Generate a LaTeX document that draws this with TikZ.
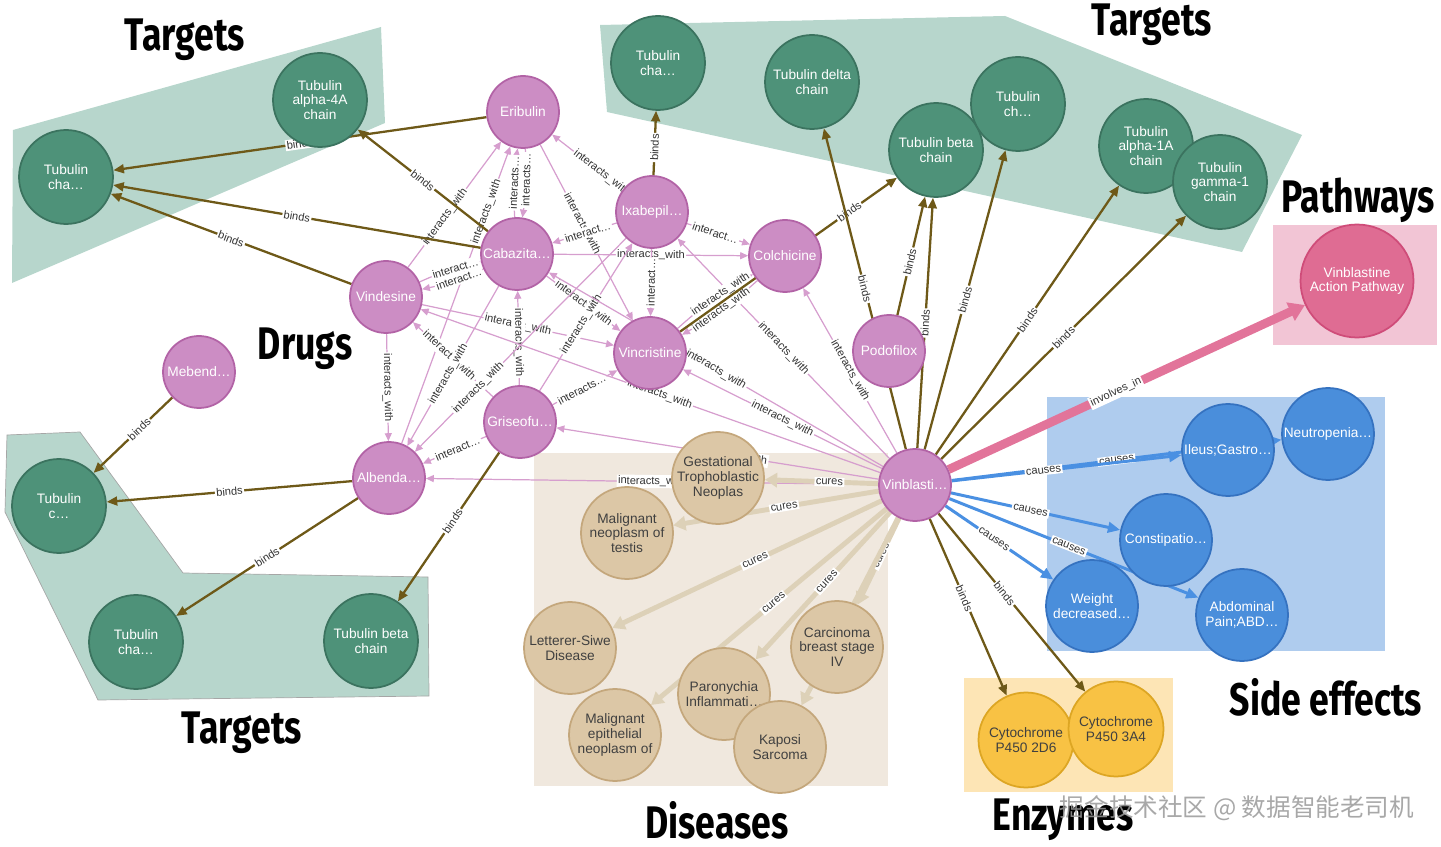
\documentclass[tikz,border=0pt]{standalone}
\usepackage{fontspec}
\setmainfont{Liberation Sans}
\newfontfamily\titlefont[FakeStretch=0.78]{Fira Sans}
\newfontfamily\cjkfont{Noto Sans CJK SC}
\usetikzlibrary{arrows.meta}

\definecolor{tgtfill}{HTML}{4E9279}
\definecolor{tgtline}{HTML}{3B735F}
\definecolor{tgtbox}{HTML}{B7D6CC}
\definecolor{drugfill}{HTML}{CC8DC4}
\definecolor{drugline}{HTML}{B263A6}
\definecolor{pathfill}{HTML}{DF6C93}
\definecolor{pathline}{HTML}{CF4C79}
\definecolor{pathbox}{HTML}{F2C5D5}
\definecolor{efffill}{HTML}{4A8EDB}
\definecolor{effline}{HTML}{3572C0}
\definecolor{effbox}{HTML}{AFCCEE}
\definecolor{enzfill}{HTML}{F8C244}
\definecolor{enzline}{HTML}{DDA623}
\definecolor{enzbox}{HTML}{FDE5B5}
\definecolor{disfill}{HTML}{DCC7A6}
\definecolor{disline}{HTML}{C4A77C}
\definecolor{disbox}{HTML}{F0E8DE}
\definecolor{bindcol}{HTML}{6E5918}
\definecolor{intercol}{HTML}{D69ECE}
\definecolor{curecol}{HTML}{DDD1B8}
\definecolor{causecol}{HTML}{4A90E2}
\definecolor{invcol}{HTML}{E2749A}

\newcommand\nodefont{\fontsize{7.8}{8.4}\selectfont}
\newcommand\edgefont{\fontsize{6.3}{6.5}\selectfont}

\pgfdeclarelayer{bg}
\pgfdeclarelayer{edges}
\pgfsetlayers{bg,edges,main}

\begin{document}
\begin{tikzpicture}[x=0.02cm, y=-0.02cm]
\tikzset{target/.style={circle, draw=tgtline, fill=tgtfill, line width=1pt, minimum size=1.88cm, inner sep=0pt, align=center, text=white, font=\nodefont}}
\tikzset{drug/.style={circle, draw=drugline, fill=drugfill, line width=1pt, minimum size=1.44cm, inner sep=0pt, align=center, text=white, font=\nodefont}}
\tikzset{pathway/.style={circle, draw=pathline, fill=pathfill, line width=1pt, minimum size=2.26cm, inner sep=0pt, align=center, text=white, font=\nodefont}}
\tikzset{effect/.style={circle, draw=effline, fill=efffill, line width=1pt, minimum size=1.84cm, inner sep=0pt, align=center, text=white, font=\nodefont}}
\tikzset{enzyme/.style={circle, draw=enzline, fill=enzfill, line width=1pt, minimum size=1.9cm, inner sep=0pt, align=center, text=black!75, font=\nodefont}}
\tikzset{disease/.style={circle, draw=disline, fill=disfill, line width=1pt, minimum size=1.84cm, inner sep=0pt, align=center, text=black!75, font=\nodefont}}
\tikzset{binds/.style={draw=bindcol, line width=1.3pt, -{Triangle[length=6pt,width=5pt]}}}
\tikzset{inter/.style={draw=intercol, line width=0.7pt, -{Triangle[length=4.5pt,width=4pt]}}}
\tikzset{causes/.style={draw=causecol, line width=1.7pt, -{Triangle[length=7pt,width=6pt]}}}
\tikzset{cures/.style={draw=curecol, line width=2.8pt, -{Triangle[length=7pt,width=8pt]}}}
\tikzset{involves/.style={draw=invcol, line width=5pt, -{Triangle[length=9pt,width=11pt]}}}
\tikzset{lbl/.style={sloped, fill=white, inner sep=0.8pt, font=\edgefont, text=black!80}}
\tikzset{grouptitle/.style={inner sep=0pt, font=\titlefont\bfseries\fontsize{26}{28}\selectfont}}
\useasboundingbox (0,0) rectangle (1441,847);

% group boxes
\begin{pgfonlayer}{bg}
\fill[tgtbox] (13,130) -- (381,27) -- (385,123) -- (12,283) -- cycle;
\fill[tgtbox] (600,25) -- (1005,16) -- (1302,135) -- (1242,252) -- (607,112) -- cycle;
\filldraw[fill=tgtbox, draw=gray!70] (7,435) -- (80,432) -- (183,573) -- (428,577) -- (429,696) -- (98,700) -- (5,512) -- cycle;
\fill[pathbox] (1273,225) rectangle (1437,345);
\fill[effbox] (1047,397) rectangle (1385,651);
\fill[enzbox] (964,678) rectangle (1173,792);
\fill[disbox] (534,453) rectangle (888,786);
\end{pgfonlayer}

% targets
\node[target] (t1) at (66,177) {Tubulin\\cha…};
\node[target] (t2) at (320,100) {Tubulin\\alpha-4A\\chain};
\node[target] (t3) at (658,63) {Tubulin\\cha…};
\node[target] (t4) at (812,82) {Tubulin delta\\chain};
\node[target] (t5) at (936,150) {Tubulin beta\\chain};
\node[target] (t6) at (1018,104) {Tubulin\\ch…};
\node[target] (t7) at (1146,146) {Tubulin\\alpha-1A\\chain};
\node[target] (t8) at (1220,182) {Tubulin\\gamma-1\\chain};
\node[target] (t9) at (59,506) {Tubulin\\c…};
\node[target] (t10) at (136,642) {Tubulin\\cha…};
\node[target] (t11) at (371,641) {Tubulin beta\\chain};

% drugs
\node[drug] (erib) at (523,112) {Eribulin};
\node[drug] (ixab) at (652,212) {Ixabepil…};
\node[drug] (caba) at (517,254) {Cabazita…};
\node[drug] (colc) at (785,256) {Colchicine};
\node[drug] (vind) at (386,297) {Vindesine};
\node[drug] (vinc) at (650,353) {Vincristine};
\node[drug] (podo) at (889,351) {Podofilox};
\node[drug] (mebe) at (199,372) {Mebend…};
\node[drug] (gris) at (520,422) {Griseofu…};
\node[drug] (albe) at (389,478) {Albenda…};
\node[drug] (vinb) at (915,485) {Vinblasti…};

% pathway, side effects, enzymes
\node[pathway] (path) at (1357,281) {Vinblastine\\Action Pathway};
\node[effect] (neut) at (1328,434) {Neutropenia…};
\node[effect] (ileu) at (1228,450) {Ileus;Gastro…};
\node[effect] (cons) at (1166,540) {Constipatio…};
\node[effect] (weig) at (1092,606) {Weight\\decreased…};
\node[effect] (abdo) at (1242,615) {Abdominal\\Pain;ABD…};
\node[enzyme] (cyp2) at (1026,740) {Cytochrome\\P450 2D6};
\node[enzyme] (cyp3) at (1116,729) {Cytochrome\\P450 3A4};

% diseases
\node[disease] (malt) at (627,533) {Malignant\\neoplasm of\\testis};
\node[disease] (gest) at (718,478) {Gestational\\Trophoblastic\\Neoplas};
\node[disease] (lett) at (570,648) {Letterer-Siwe\\Disease};
\node[disease] (carc) at (837,647) {Carcinoma\\breast stage\\IV};
\node[disease] (paro) at (724,694) {Paronychia\\Inflammati…};
\node[disease] (male) at (615,735) {Malignant\\epithelial\\neoplasm of};
\node[disease] (kapo) at (780,747) {Kaposi\\Sarcoma};

\begin{pgfonlayer}{edges}
% interacts_with
\draw[inter] (vind) -- node[lbl, pos=0.4]{interacts\_with} (erib);
\draw[inter] (albe) -- node[lbl, pos=0.78]{interacts\_with} (erib);
\draw[inter] (caba) to[bend left=6] node[lbl]{interacts…} (erib);
\draw[inter] (erib) to[bend left=6] node[lbl, pos=0.45]{interacts…} (caba);
\draw[inter] (erib) -- node[lbl, pos=0.45]{interacts\_with} (vinc);
\draw[inter] (ixab) -- node[lbl, pos=0.3]{interacts\_with} (erib);
\draw[inter] (ixab) -- node[lbl, pos=0.45]{interact…} (caba);
\draw[inter] (caba) -- node[lbl, pos=0.5]{interacts\_with} (colc);
\draw[inter] (ixab) -- node[lbl, pos=0.45]{interact…} (colc);
\draw[inter] (ixab) -- node[lbl]{interact…} (vinc);
\draw[inter] (vind) to[bend left=6] node[lbl, pos=0.6]{interact…} (caba);
\draw[inter] (caba) to[bend left=6] node[lbl, pos=0.4]{interact…} (vind);
\draw[inter] (vind) -- node[lbl, pos=0.5]{interacts\_with} (vinc);
\draw[inter] (caba) -- node[lbl, pos=0.5]{interacts\_with} (vinc);
\draw[inter] (gris) -- node[lbl, pos=0.45]{interacts\_with} (caba);
\draw[inter] (gris) -- node[lbl, pos=0.45]{interacts\_with} (ixab);
\draw[inter] (gris) -- node[lbl, pos=0.45]{interacts…} (vinc);
\draw[inter] (vind) -- node[lbl]{interacts\_with} (albe);
\draw[inter] (gris) -- node[lbl, pos=0.55]{interacts\_with} (vind);
\draw[inter] (caba) -- node[lbl, pos=0.55]{interacts\_with} (albe);
\draw[inter] (ixab) -- node[lbl, pos=0.7]{interacts\_with} (albe);
\draw[inter] (gris) -- node[lbl, pos=0.45]{interact…} (albe);
\draw[inter] (vinb) -- node[lbl, pos=0.5]{interacts\_with} (albe);
\draw[inter] (vinb) -- node[lbl, pos=0.45]{interacts\_with} (gris);
\draw[inter] (vinb) -- node[lbl, pos=0.5]{interacts\_with} (vinc);
\draw[inter] (vinb) -- node[lbl, pos=0.48]{interacts\_with} (vind);
\draw[inter] (vinb) -- node[lbl, pos=0.5]{interacts\_with} (caba);
\draw[inter] (vinb) -- node[lbl, pos=0.5]{interacts\_with} (ixab);
\draw[inter] (vinb) -- node[lbl, pos=0.5]{interacts\_with} (colc);
\draw[inter] (vinc) to[bend left=6] node[lbl, pos=0.6]{interacts\_with} (colc);
\draw[inter] (colc) to[bend left=6] node[lbl, pos=0.5]{interacts\_with} (vinc);
% binds
\draw[binds] (erib) -- node[lbl]{binds} (t1);
\draw[binds] (caba) -- node[lbl]{binds} (t2);
\draw[binds] (caba) -- node[lbl]{binds} (t1);
\draw[binds] (vind) -- node[lbl]{binds} (t1);
\draw[binds] (ixab) -- node[lbl, pos=0.43]{binds} (t3);
\draw[binds] (vinc) -- node[lbl, pos=0.78]{binds} (t5);
\draw[binds] (vinb) -- node[lbl]{binds} (t4);
\draw[binds] (podo) -- node[lbl, pos=0.45]{binds} (t5);
\draw[binds] (vinb) -- node[lbl]{binds} (t5);
\draw[binds] (vinb) -- node[lbl]{binds} (t6);
\draw[binds] (vinb) -- node[lbl]{binds} (t7);
\draw[binds] (vinb) -- node[lbl]{binds} (t8);
\draw[binds] (vinb) -- node[lbl, pos=0.45]{binds} (cyp2);
\draw[binds] (vinb) -- node[lbl, pos=0.45]{binds} (cyp3);
\draw[binds] (mebe) -- node[lbl, pos=0.42]{binds} (t9);
\draw[binds] (albe) -- node[lbl]{binds} (t9);
\draw[binds] (albe) -- node[lbl]{binds} (t10);
\draw[binds] (gris) -- node[lbl, pos=0.46]{binds} (t11);
% cures
\draw[cures] (vinb) -- node[lbl, pos=0.43]{cures} (gest);
\draw[cures] (vinb) -- node[lbl, pos=0.46]{cures} (malt);
\draw[cures] (vinb) -- node[lbl, pos=0.47]{cures} (lett);
\draw[cures] (vinb) -- node[lbl, pos=0.48]{cures} (male);
\draw[cures] (vinb) -- node[lbl, pos=0.47]{cures} (paro);
\draw[cures] (vinb) -- node[lbl, pos=0.43]{cures} (carc);
\draw[cures] (vinb) -- node[lbl, pos=0.6]{cures} (kapo);
% causes and pathway
\draw[causes] (vinb) -- node[lbl, pos=0.5]{causes} (neut);
\draw[causes] (vinb) -- node[lbl, pos=0.4]{causes} (ileu);
\draw[causes] (vinb) -- node[lbl, pos=0.47]{causes} (cons);
\draw[causes] (vinb) -- node[lbl, pos=0.45]{causes} (weig);
\draw[causes] (vinb) -- node[lbl, pos=0.48]{causes} (abdo);
\draw[involves] (vinb) -- node[lbl, pos=0.47]{involves\_in} (path);
\end{pgfonlayer}

% group titles
\node[grouptitle] (ttgt1) at (185,40) {Targets};
\node[grouptitle] (ttgt2) at (1152,25) {Targets};
\node[grouptitle] (ttgt3) at (242,733) {Targets};
\node[grouptitle] (tpath) at (1358,200) {Pathways};
\node[grouptitle] (tdrug) at (305,349) {Drugs};
\node[grouptitle] (tdis) at (717,820) {Diseases};
\node[grouptitle] (teff) at (1326,697) {Side effects};
\node[grouptitle] (tenz) at (1063,820) {Enzymes};
\node[font=\cjkfont\fontsize{14}{16}\selectfont, text=gray!80, opacity=0.85] (mark) at (1237,808) {掘金技术社区 @ 数据智能老司机};
\end{tikzpicture}
\end{document}
